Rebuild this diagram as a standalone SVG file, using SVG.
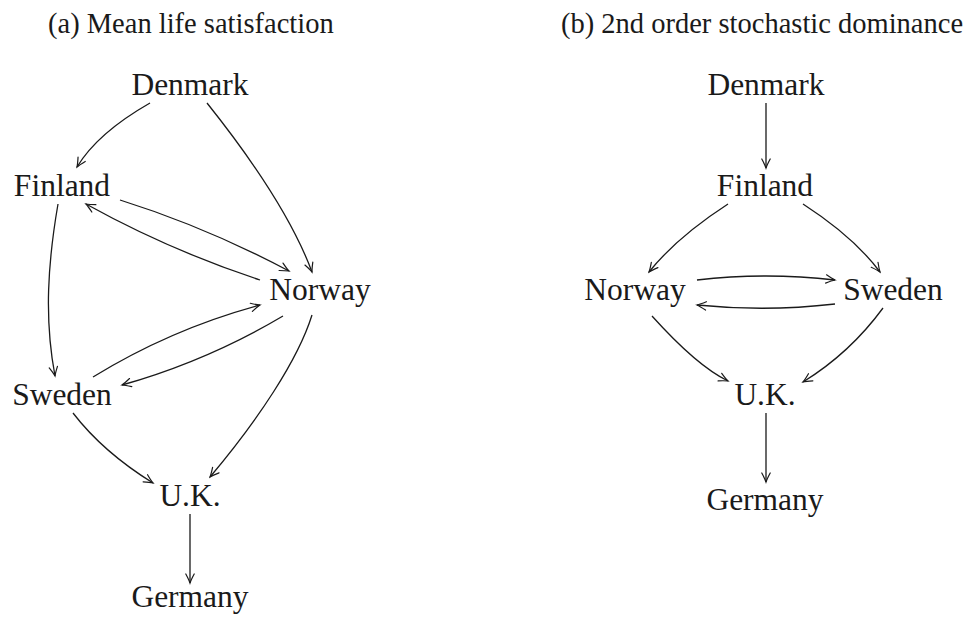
<svg xmlns="http://www.w3.org/2000/svg" width="973" height="618" viewBox="0 0 973 618">
<style>
.lbl{font-family:"Liberation Serif","DejaVu Serif",serif;font-size:31.5px;fill:#1a1a1a;text-anchor:middle}
.ttl{font-family:"Liberation Serif","DejaVu Serif",serif;font-size:28.5px;fill:#1a1a1a}
.e{fill:none;stroke:#1a1a1a;stroke-width:1.3;marker-end:url(#arr)}
</style>
<defs>
<marker id="arr" markerUnits="userSpaceOnUse" viewBox="-11 -6 13 12" refX="0" refY="0" markerWidth="13" markerHeight="12" orient="auto">
<path d="M-9,-4.2 Q-3,-1 0,0 Q-3,1 -9,4.2" fill="none" stroke="#1a1a1a" stroke-width="1.2" stroke-linecap="round"/>
</marker>
</defs>
<rect width="973" height="618" fill="#ffffff"/>
<text class="ttl" x="48" y="33">(a) Mean life satisfaction</text>
<text class="ttl" x="561" y="33">(b) 2nd order stochastic dominance</text>
<g id="connectors">
<path class="e" d="M150,103 Q97.5,133 77,167"/>
<path class="e" d="M207,103 Q286,202 312,272"/>
<path class="e" d="M120,200 Q206,227 289,271"/>
<path class="e" d="M260,280 Q169,250 86,204"/>
<path class="e" d="M58,204 C48,262 44,318 55,376"/>
<path class="e" d="M93,377 Q171,329 260,305"/>
<path class="e" d="M283,316 Q207,361 122,385"/>
<path class="e" d="M312,315 C298,360 258,420 210,477"/>
<path class="e" d="M73,413 Q103,452 153,483"/>
<path class="e" d="M190,514 L190,583"/>
<path class="e" d="M766,103 L766,168"/>
<path class="e" d="M728,204 Q677,237 649,272"/>
<path class="e" d="M803,204 Q854,237 880,272"/>
<path class="e" d="M697,280 Q766,272 835,280"/>
<path class="e" d="M835,304 Q766,312 697,305"/>
<path class="e" d="M652,316 Q697,366 728,381"/>
<path class="e" d="M883,308 Q850,353 803,382"/>
<path class="e" d="M766,413 L766,482"/>
</g>
<g id="a-denmark"><text class="lbl" x="190" y="95">Denmark</text></g>
<g id="a-finland"><text class="lbl" x="62" y="196">Finland</text></g>
<g id="a-norway"><text class="lbl" x="320" y="300">Norway</text></g>
<g id="a-sweden"><text class="lbl" x="62" y="405">Sweden</text></g>
<g id="a-uk"><text class="lbl" x="190" y="506">U.K.</text></g>
<g id="a-germany"><text class="lbl" x="190" y="607">Germany</text></g>
<g id="b-denmark"><text class="lbl" x="766" y="95">Denmark</text></g>
<g id="b-finland"><text class="lbl" x="765" y="196">Finland</text></g>
<g id="b-norway"><text class="lbl" x="635" y="300">Norway</text></g>
<g id="b-sweden"><text class="lbl" x="893" y="300">Sweden</text></g>
<g id="b-uk"><text class="lbl" x="765" y="405">U.K.</text></g>
<g id="b-germany"><text class="lbl" x="765" y="510">Germany</text></g>
</svg>
